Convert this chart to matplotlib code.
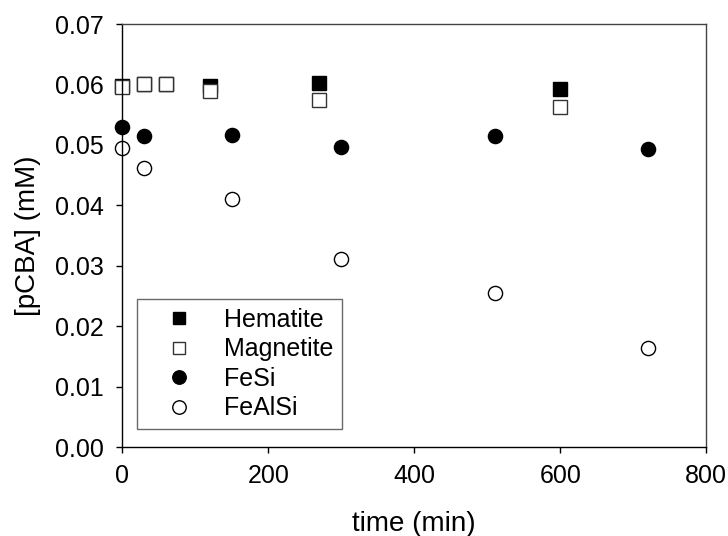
import matplotlib
matplotlib.use("Agg")
import matplotlib.pyplot as plt

plt.rcParams['font.family'] = ['Liberation Sans', 'DejaVu Sans']

# data
t_hem = [0, 30, 60, 120, 270, 600]
hematite = [0.0597, 0.0601, 0.0601, 0.0597, 0.0602, 0.0592]

t_mag = [0, 30, 60, 120, 270, 600]
magnetite = [0.0596, 0.0601, 0.0601, 0.0590, 0.0574, 0.0562]

t_fe = [0, 30, 150, 300, 510, 720]
fesi = [0.0530, 0.0515, 0.0517, 0.0497, 0.0514, 0.0493]
fealsi = [0.0495, 0.0462, 0.0411, 0.0312, 0.0255, 0.0164]

fig = plt.figure(figsize=(7.28, 5.36), dpi=100)
ax = fig.add_axes([0.168, 0.166, 0.802, 0.789])

ax.plot(t_hem, hematite, 's', color='black', mec='black', ms=9.5, mew=1, label='Hematite', clip_on=False)
ax.plot(t_mag, magnetite, 's', mfc='white', mec='#333333', ms=9.5, mew=1, label='Magnetite', clip_on=False)
ax.plot(t_fe, fesi, 'o', color='black', mec='black', ms=10.2, mew=1, label='FeSi', clip_on=False)
ax.plot(t_fe, fealsi, 'o', mfc='white', mec='black', ms=10.2, mew=1, label='FeAlSi', clip_on=False)

ax.set_xlim(0, 800)
ax.set_ylim(0, 0.07)
ax.set_xticks([0, 200, 400, 600, 800])
ax.set_yticks([0.00, 0.01, 0.02, 0.03, 0.04, 0.05, 0.06, 0.07])
ax.set_yticklabels(['0.00', '0.01', '0.02', '0.03', '0.04', '0.05', '0.06', '0.07'])
ax.tick_params(direction='out', length=4.5, width=1, labelsize=18)
ax.tick_params(axis='y', pad=9)
ax.tick_params(axis='x', pad=8)
for s in ax.spines.values():
    s.set_linewidth(1)
    s.set_color('#444444')
ax.spines['left'].set_color('black')
ax.spines['bottom'].set_color('black')

ax.set_xlabel('time (min)', fontsize=20, labelpad=16)
ax.set_ylabel('[pCBA] (mM)', fontsize=20, labelpad=10)

leg = ax.legend(loc='lower left', bbox_to_anchor=(0.0257, 0.0426), borderaxespad=0,
                fontsize=18, frameon=True, fancybox=False, edgecolor='#444444',
                handletextpad=0.5, labelspacing=0.22, borderpad=0.35,
                handlelength=2.6, markerscale=0.95)
leg.get_frame().set_linewidth(1)

fig.savefig('out.png', dpi=100)
